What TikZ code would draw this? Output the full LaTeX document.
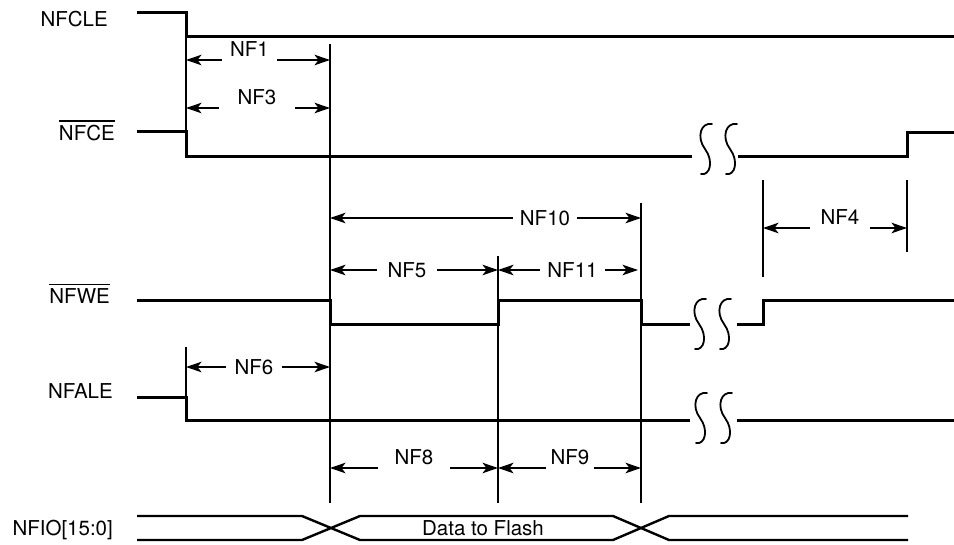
\documentclass[tikz,border=0pt]{standalone}
\usepackage{fontspec}
\setmainfont{TeX Gyre Heros}
\usetikzlibrary{arrows.meta}

% break mark on a waveform, centred at (#1,#2)
\newcommand{\sigbreak}[2]{\draw[brk,shift={(#1,#2)}] (7,-25) .. controls (-4,-27) and (-9,-12) .. (0,0) .. controls (9,12) and (5,27) .. (-4,25);}

\begin{document}
\begin{tikzpicture}[x=1pt,y=-1pt,
  sig/.style={line width=3pt},
  bus/.style={line width=2.4pt},
  guide/.style={line width=1.8pt},
  brk/.style={line width=1.8pt,line cap=round},
  dimarrow/.style={line width=1.8pt,-{Stealth[length=15.5pt,width=10.5pt,inset=4pt]}},
  signame/.style={anchor=base east,inner sep=0pt,font=\fontsize{20.5}{24}\selectfont},
  tlabel/.style={inner ysep=2pt,font=\fontsize{20.5}{24}\selectfont},
  lifted/.style={text depth=22pt}]
\useasboundingbox (0,0) rectangle (954,544);

% time marks
\coordinate (t0) at (186,0); \coordinate (t1) at (330,0); \coordinate (t2) at (498,0);
\coordinate (t3) at (641,0); \coordinate (t4) at (763,0); \coordinate (t5) at (907,0);

% signal names
\node[signame] (cle) at (108,26.7) {NFCLE};
\node[signame] (ce) at (115,140) {NFCE};
\draw[line width=1.6pt] ([yshift=3.5pt]ce.north west) -- ([yshift=3.5pt]ce.north east);
\node[signame] (we) at (110,303) {NFWE};
\draw[line width=1.6pt] ([yshift=3.5pt]we.north west) -- ([yshift=3.5pt]we.north east);
\node[signame] (ale) at (113,398) {NFALE};
\node[signame] (io) at (113,535) {NFIO[15:0]};

% waveforms
\draw[sig] (137,12) -- (186,12) -- (186,36) -- (954,36);
\draw[sig] (137,131) -- (186,131) -- (186,156) -- (692,156);
\draw[sig] (738,156) -- (907,156) -- (907,132) -- (954,132);
\draw[sig] (137,300) -- (330,300) -- (330,324) -- (498,324) -- (498,300) -- (641,300) -- (641,324) -- (690,324);
\draw[sig] (737,324) -- (763,324) -- (763,300) -- (954,300);
\draw[sig] (137,397) -- (186,397) -- (186,420) -- (690,420);
\draw[sig] (737,420) -- (954,420);
\sigbreak{705}{149} \sigbreak{730}{149}
\sigbreak{699}{324} \sigbreak{724}{324}
\sigbreak{700}{418} \sigbreak{725}{418}

% data bus
\draw[bus] (137,516) -- (302,516) -- (360,540) -- (613,540) -- (669,516) -- (908,516);
\draw[bus] (137,540) -- (302,540) -- (360,516) -- (613,516) -- (669,540) -- (908,540);
\node[tlabel] (data) at (483,528.5) {Data to Flash};

% reference lines
\draw[guide] (186,36) -- (186,131);
\draw[guide] (186,347) -- (186,397);
\draw[guide] (330,44) -- (330,503);
\draw[guide] (498,256) -- (498,503);
\draw[guide] (641,203) -- (641,503);
\draw[guide] (763,180) -- (763,277);
\draw[guide] (907,180) -- (907,252);

% timing parameters
\node[tlabel,lifted,inner xsep=8.2pt] (nf1) at (249.5,60) {NF1};
\draw[dimarrow] (nf1.west) -- (nf1.west -| t0); \draw[dimarrow] (nf1.east) -- (nf1.east -| t1);
\node[tlabel,lifted,inner xsep=18.6pt] (nf3) at (257,108) {NF3};
\draw[dimarrow] (nf3.west) -- (nf3.west -| t0); \draw[dimarrow] (nf3.east) -- (nf3.east -| t1);
\node[tlabel,inner xsep=7pt] (nf10) at (545,218) {NF10};
\draw[dimarrow] (nf10.west) -- (nf10.west -| t1); \draw[dimarrow] (nf10.east) -- (nf10.east -| t3);
\node[tlabel,inner xsep=10.6pt] (nf5) at (407,270) {NF5};
\draw[dimarrow] (nf5.west) -- (nf5.west -| t1); \draw[dimarrow] (nf5.east) -- (nf5.east -| t2);
\node[tlabel,inner xsep=7.4pt] (nf11) at (572.5,270) {NF11};
\draw[dimarrow] (nf11.west) -- (nf11.west -| t2); \draw[dimarrow,shorten >=3pt] (nf11.east) -- (nf11.east -| t3);
\node[tlabel,lifted,inner xsep=10.6pt] (nf4) at (840,228) {NF4};
\draw[dimarrow] (nf4.west) -- (nf4.west -| t4); \draw[dimarrow] (nf4.east) -- (nf4.east -| t5);
\node[tlabel,inner xsep=8.6pt] (nf6) at (254,367) {NF6};
\draw[dimarrow] (nf6.west) -- (nf6.west -| t0); \draw[dimarrow] (nf6.east) -- (nf6.east -| t1);
\node[tlabel,lifted,inner xsep=16.6pt] (nf8) at (414,468) {NF8};
\draw[dimarrow] (nf8.west) -- (nf8.west -| t1); \draw[dimarrow] (nf8.east) -- (nf8.east -| t2);
\node[tlabel,lifted,inner xsep=4.1pt] (nf9) at (570,468) {NF9};
\draw[dimarrow] (nf9.west) -- (nf9.west -| t2); \draw[dimarrow] (nf9.east) -- (nf9.east -| t3);

\end{tikzpicture}
\end{document}
